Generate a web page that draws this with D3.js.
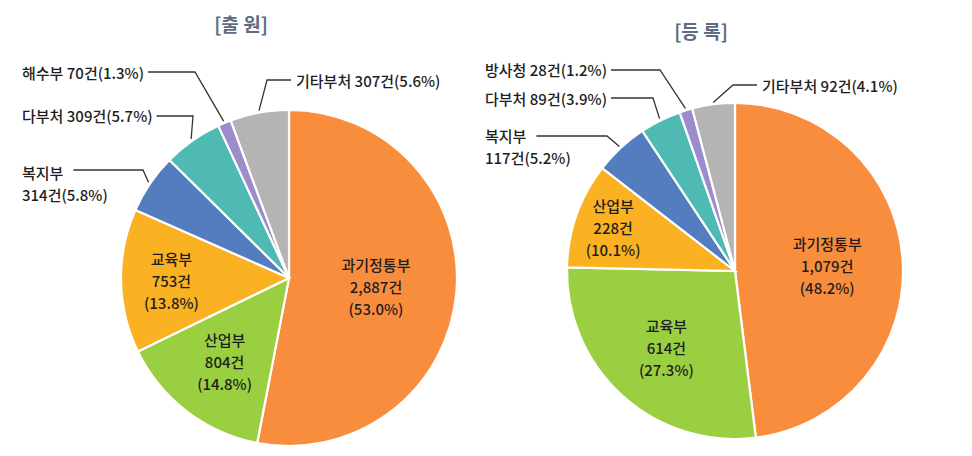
<!DOCTYPE html>
<html>
<head>
<meta charset="utf-8">
<script src="https://cdn.jsdelivr.net/npm/d3@7"></script>
<style>
  body { margin: 0; background: #fff; }
  svg text { font-family: "Noto Sans CJK KR", "Noto Sans", sans-serif; fill: #1e1e1e; font-weight: 500; }
</style>
</head>
<body>
<svg id="chart" width="972" height="456"></svg>
<script>
// 출원 (applications)
const appNames = ['과기정통부', '산업부', '교육부', '복지부', '다부처', '해수부', '기타부처'];
const appCounts = [2887, 804, 753, 314, 309, 70, 307];
const appShares = [53.0, 14.8, 13.8, 5.8, 5.7, 1.3, 5.6];

// 등록 (registrations)
const regNames = ['과기정통부', '교육부', '산업부', '복지부', '다부처', '방사청', '기타부처'];
const regCounts = [1079, 614, 228, 117, 89, 28, 92];
const regShares = [48.2, 27.3, 10.1, 5.2, 3.9, 1.2, 4.1];

// slice colours go by position, clockwise from 12 o'clock
const sliceColors = ['#f98d3e', '#9bcf42', '#fab122', '#537dbe', '#4fbab3', '#9c8ccb', '#b4b4b4'];

const fmt = d3.format(',');
const svg = d3.select('#chart');
const FS = 15, LH = 22;

// layout for each pie: centre, radius, inside label radii, outside label placement
const charts = [
    {
        title: '[출 원]', titleX: 241, titleY: 23,
        cx: 289, cy: 278, r: 168,
        names: appNames, counts: appCounts, shares: appShares,
        // inside labels: fraction of radius
        inside: { '과기정통부': 0.52, '산업부': 0.63, '교육부': 0.70 },
        // outside labels: text x, first line y, leader y, elbow x
        outside: {
            '복지부': { x: 22, y: 172, split: true, ly: 170, ex: 143 },
            '다부처': { x: 22, y: 115, ly: 116, ex: 193 },
            '해수부': { x: 22, y: 72, ly: 72, ex: 195 },
            '기타부처': { x: 296, y: 80, ly: 80, ex: 267, left: true }
        }
    },
    {
        title: '[등 록]', titleX: 701, titleY: 30,
        cx: 735, cy: 271, r: 168,
        names: regNames, counts: regCounts, shares: regShares,
        inside: { '과기정통부': 0.55, '교육부': 0.61, '산업부': 0.77 },
        outside: {
            '복지부': { x: 485, y: 135, split: true, ly: 136, ex: 607 },
            '다부처': { x: 485, y: 98, ly: 98, ex: 653 },
            '방사청': { x: 485, y: 69, ly: 70, ex: 660 },
            '기타부처': { x: 762, y: 85, ly: 85, ex: 733, left: true }
        }
    }
];

charts.forEach(c => {
    const data = c.names.map((n, i) => ({ name: n, count: c.counts[i], share: c.shares[i], idx: i }));

    svg.append('text')
        .attr('x', c.titleX)
        .attr('y', c.titleY)
        .attr('text-anchor', 'middle')
        .attr('dominant-baseline', 'central')
        .style('font-size', '19px')
        .style('font-weight', 'bold')
        .style('fill', '#5d6c80')
        .text(c.title);

    const pie = d3.pie().sort(null).value(d => d.count);
    const arcs = pie(data);
    const arc = d3.arc().innerRadius(0).outerRadius(c.r);

    const g = svg.append('g').attr('transform', `translate(${c.cx},${c.cy})`);

    g.selectAll('path')
        .data(arcs)
        .join('path')
        .attr('d', arc)
        .attr('fill', d => sliceColors[d.data.idx])
        .attr('stroke', '#fff')
        .attr('stroke-width', 2.2);

    // labels inside the big slices
    arcs.filter(d => c.inside[d.data.name]).forEach(d => {
        const rr = c.r * c.inside[d.data.name];
        const a = (d.startAngle + d.endAngle) / 2;
        const x = rr * Math.sin(a);
        const y = -rr * Math.cos(a);
        const lines = [d.data.name, fmt(d.data.count) + '건', '(' + d.data.share.toFixed(1) + '%)'];
        lines.forEach((l, i) => {
            g.append('text')
                .attr('x', x)
                .attr('y', y + (i - 1) * LH)
                .attr('text-anchor', 'middle')
                .attr('dominant-baseline', 'central')
                .style('font-size', FS + 'px')
                .text(l);
        });
    });

    // outside labels with leader lines
    arcs.filter(d => c.outside[d.data.name]).forEach(d => {
        const o = c.outside[d.data.name];
        const a = (d.startAngle + d.endAngle) / 2;
        const px = c.cx + (c.r + 2) * Math.sin(a);
        const py = c.cy - (c.r + 2) * Math.cos(a);
        const body = d.data.count + '건(' + d.data.share.toFixed(1) + '%)';
        const lines = o.split ? [d.data.name, body] : [d.data.name + ' ' + body];

        let firstWidth = 0;
        lines.forEach((l, i) => {
            const t = svg.append('text')
                .attr('x', o.x)
                .attr('y', o.y + i * LH)
                .attr('dominant-baseline', 'central')
                .style('font-size', FS + 'px')
                .text(l);
            if (i === 0) firstWidth = t.node().getComputedTextLength();
        });

        const lx = o.left ? o.x - 5 : o.x + firstWidth + (o.split ? 10 : 4);
        svg.append('polyline')
            .attr('points', [[lx, o.ly], [o.ex, o.ly], [px, py]].map(p => p.join(',')).join(' '))
            .attr('fill', 'none')
            .attr('stroke', '#333')
            .attr('stroke-width', 1.3);
    });
});
</script>
</body>
</html>
